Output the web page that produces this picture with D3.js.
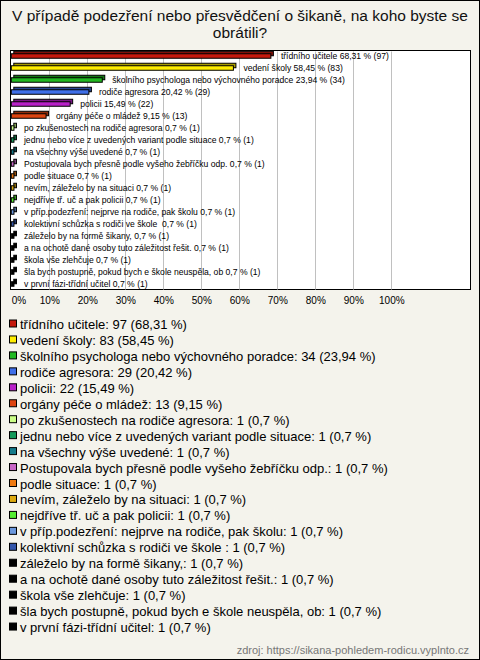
<!DOCTYPE html>
<html>
<head>
<meta charset="utf-8">
<script src="https://cdn.jsdelivr.net/npm/d3@7"></script>
<style>
html,body{margin:0;padding:0;background:#fff;}
svg{display:block;font-family:"Liberation Sans",Arial,sans-serif;}
</style>
</head>
<body>
<svg id="chart" width="480" height="660"></svg>
<script>
const titleLines = ["V případě podezření nebo přesvědčení o šikaně, na koho byste se", "obrátili?"];
const categories = [
  "třídního učitele",
  "vedení školy",
  "školního psychologa nebo výchovného poradce",
  "rodiče agresora",
  "policii",
  "orgány péče o mládež",
  "po zkušenostech na rodiče agresora",
  "jednu nebo více z uvedených variant podle situace",
  "na všechny výše uvedené",
  "Postupovala bych přesně podle vyšeho žebříčku odp.",
  "podle situace",
  "nevím, záleželo by na situaci",
  "nejdříve tř. uč a pak policii",
  "v příp.podezření: nejprve na rodiče, pak školu",
  "kolektivní schůzka s rodiči ve škole ",
  "záleželo by na formě šikany,",
  "a na ochotě dané osoby tuto záležitost řešit.",
  "škola vše zlehčuje",
  "šla bych postupně, pokud bych e škole neuspěla, ob",
  "v první fázi-třídní učitel"
];
const counts = [97, 83, 34, 29, 22, 13, 1, 1, 1, 1, 1, 1, 1, 1, 1, 1, 1, 1, 1, 1];
const percents = [68.31, 58.45, 23.94, 20.42, 15.49, 9.15, 0.7, 0.7, 0.7, 0.7, 0.7, 0.7, 0.7, 0.7, 0.7, 0.7, 0.7, 0.7, 0.7, 0.7];
const percentLabels = ["68,31", "58,45", "23,94", "20,42", "15,49", "9,15", "0,7", "0,7", "0,7", "0,7", "0,7", "0,7", "0,7", "0,7", "0,7", "0,7", "0,7", "0,7", "0,7", "0,7"];
const colors = ["#c4180c", "#ffee00", "#22b822", "#3f6fe8", "#b820c8", "#dd4410", "#ccff88", "#13995a", "#147a8a", "#c866c8", "#ee7a12", "#ddaa10", "#55ee33", "#6b98dd", "#3355aa", "#000000", "#000000", "#000000", "#000000", "#000000"];
const xTicks = [0, 10, 20, 30, 40, 50, 60, 70, 80, 90, 100];
const sourceText = "zdroj: https://sikana-pohledem-rodicu.vyplnto.cz";

const svg = d3.select("#chart");
const W = 480, H = 660;

svg.append("rect").attr("x", 0.5).attr("y", 0.5).attr("width", W - 1).attr("height", H - 1)
  .attr("fill", "#f4f3ec").attr("stroke", "#000");

svg.selectAll("text.title").data(titleLines).join("text")
  .attr("class", "title")
  .attr("x", 240).attr("y", (d, i) => 21 + i * 17)
  .attr("text-anchor", "middle").attr("font-size", 15.5).attr("fill", "#111")
  .text(d => d);

const plot = {left: 10.5, top: 50.5, right: 470.5, bottom: 289.5};
svg.append("rect").attr("x", plot.left).attr("y", plot.top)
  .attr("width", plot.right - plot.left).attr("height", plot.bottom - plot.top)
  .attr("fill", "#fff").attr("stroke", "#000");

const x = d3.scaleLinear().domain([0, 100]).range([11.3, 391.3]);
const y = d3.scaleBand().domain(d3.range(categories.length)).range([50, 290]).padding(0);

// gridlines
svg.append("g").selectAll("line").data(xTicks.slice(1)).join("line")
  .attr("x1", d => Math.round(x(d)) + 0.5).attr("x2", d => Math.round(x(d)) + 0.5)
  .attr("y1", plot.top + 1).attr("y2", plot.bottom)
  .attr("stroke", "#c0c0c0").attr("stroke-width", 1);

// bars (3D style)
const barH = 4.5, depth = 2.5;
const bars = svg.append("g").selectAll("g").data(d3.range(categories.length)).join("g");
bars.append("rect")
  .attr("x", i => x(0) + depth).attr("y", i => y(i) + y.bandwidth() / 2 - barH / 2 - depth)
  .attr("width", i => x(percents[i]) - x(0)).attr("height", barH)
  .attr("fill", i => d3.color(colors[i]).darker(1.2)).attr("stroke", "#000").attr("stroke-width", 1);
bars.append("rect")
  .attr("x", i => x(0)).attr("y", i => y(i) + y.bandwidth() / 2 - barH / 2)
  .attr("width", i => x(percents[i]) - x(0)).attr("height", barH)
  .attr("fill", i => colors[i]).attr("stroke", "#000").attr("stroke-width", 1);
bars.append("text")
  .attr("x", i => x(percents[i]) + 10).attr("y", i => y(i) + y.bandwidth() / 2 + 3)
  .attr("font-size", 8.6).attr("fill", "#000")
  .attr("xml:space", "preserve")
  .text(i => `${categories[i]} ${percentLabels[i]} % (${counts[i]})`);

// x axis
const axis = d3.axisBottom(x).tickValues(xTicks).tickFormat(d => d + "%").tickSize(0).tickPadding(0);
const ax = svg.append("g").attr("transform", "translate(0,297)").call(axis);
ax.select(".domain").remove();
ax.selectAll("text").attr("font-size", 10).attr("fill", "#000")
  .attr("font-family", "Liberation Sans, Arial, sans-serif");
ax.selectAll(".tick").filter(d => d === 0).select("text").attr("text-anchor", "start");

// legend
const legend = svg.append("g").selectAll("g").data(d3.range(categories.length)).join("g")
  .attr("transform", i => `translate(0,${324.5 + i * 15.95})`);
legend.append("rect").attr("x", 9.5).attr("y", -4.5).attr("width", 7).attr("height", 7)
  .attr("fill", i => colors[i]).attr("stroke", "#000");
legend.append("text").attr("x", 20).attr("y", 4.5).attr("font-size", 13).attr("fill", "#000")
  .attr("xml:space", "preserve")
  .text(i => `${categories[i]}: ${counts[i]} (${percentLabels[i]} %)`);

svg.append("text").attr("x", 469).attr("y", 654).attr("text-anchor", "end")
  .attr("font-size", 11).attr("fill", "#777").text(sourceText);
</script>
</body>
</html>
